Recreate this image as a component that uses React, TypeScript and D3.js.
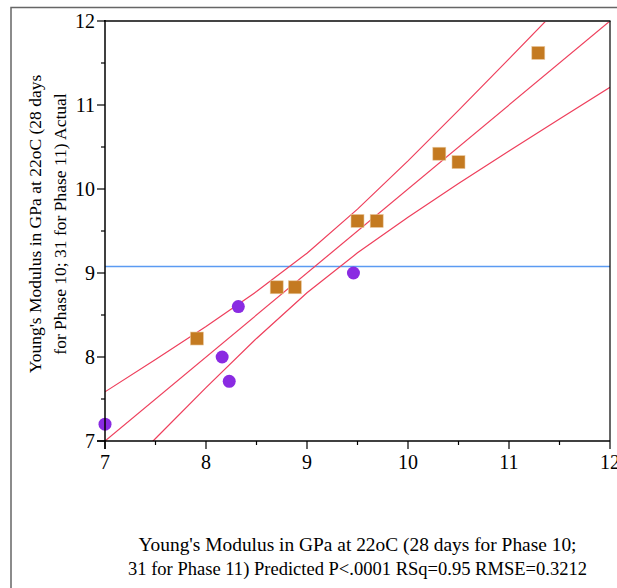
import React from "react";
import * as d3 from "d3";

// Actual by Predicted: Young's modulus (GPa) at 22oC
const phase10Predicted = [7.91, 8.70, 8.88, 9.50, 9.69, 10.31, 10.50, 11.29];
const phase10Actual = [8.22, 8.83, 8.83, 9.62, 9.62, 10.42, 10.32, 11.62];
const phase11Predicted = [7.0, 8.16, 8.23, 8.32, 9.46];
const phase11Actual = [7.2, 8.0, 7.71, 8.6, 9.0];

// Mean of actual values (horizontal reference line)
const meanActual = 9.076;

// Fit line and its confidence curves
const bandX = [7, 7.5, 8, 8.5, 9, 9.5, 10, 10.5, 11, 11.5, 12];
const bandUpper = [7.585, 7.97, 8.364, 8.779, 9.236, 9.76, 10.335, 10.936, 11.549, 12.168, 12.79];
const bandLower = [6.415, 7.03, 7.636, 8.221, 8.764, 9.24, 9.665, 10.064, 10.451, 10.832, 11.21];

const majorTicks = [7, 8, 9, 10, 11, 12];
const minorTicks = [7.5, 8.5, 9.5, 10.5, 11.5];

const xTitle = [
  "Young's Modulus in GPa at 22oC (28 days for Phase 10;",
  "31 for Phase 11) Predicted P<.0001 RSq=0.95 RMSE=0.3212",
];
const xTitleWidths = [438, 459];
const yTitle = [
  "Young's Modulus in GPa at 22oC (28 days",
  "for Phase 10; 31 for Phase 11) Actual",
];

const W = 617;
const H = 588;
const left = 105;
const right = 610;
const top = 21;
const bottom = 441;

const FONT = "'Liberation Serif', 'Times New Roman', serif";
const RED = "#ee3f5c";
const ORANGE = "#c47a21";
const PURPLE = "#8a2be2";

export default function App() {
  const x = d3.scaleLinear().domain([7, 12]).range([left, right]);
  const y = d3.scaleLinear().domain([7, 12]).range([bottom, top]);

  const line = d3
    .line<[number, number]>()
    .x((d) => x(d[0]))
    .y((d) => y(d[1]));

  const upper = line(bandX.map((v, i) => [v, bandUpper[i]] as [number, number]));
  const lower = line(bandX.map((v, i) => [v, bandLower[i]] as [number, number]));
  const fit = line([
    [7, 7],
    [12, 12],
  ]);

  const sq = 13;
  const cx = (left + right) / 2;
  const yTitleCenter = 224;

  return (
    <svg
      width={W}
      height={H}
      style={{ position: "absolute", left: 0, top: 0, background: "#fff" }}
      fontFamily={FONT}
    >
      <defs>
        <clipPath id="plotClip">
          <rect x={left} y={top} width={right - left} height={bottom - top} />
        </clipPath>
      </defs>

      {/* outer frame */}
      <rect x={11} y={7.5} width={W + 20} height={H + 20} fill="none" stroke="#666" strokeWidth={1.5} />

      <g clipPath="url(#plotClip)">
        <line x1={left} x2={right} y1={y(meanActual)} y2={y(meanActual)} stroke="#5b9bf2" strokeWidth={1.5} />
        <path d={upper ?? ""} fill="none" stroke={RED} strokeWidth={1.2} />
        <path d={lower ?? ""} fill="none" stroke={RED} strokeWidth={1.2} />
        <path d={fit ?? ""} fill="none" stroke={RED} strokeWidth={1.2} />
      </g>

      {phase10Predicted.map((v, i) => (
        <rect
          key={"s" + i}
          x={x(v) - sq / 2}
          y={y(phase10Actual[i]) - sq / 2}
          width={sq}
          height={sq}
          fill={ORANGE}
          stroke="#e9c9a0"
          strokeWidth={0.6}
        />
      ))}
      {phase11Predicted.map((v, i) => (
        <circle key={"c" + i} cx={x(v)} cy={y(phase11Actual[i])} r={6.5} fill={PURPLE} />
      ))}

      {/* plot frame */}
      <line x1={left - 1} x2={right + 0.5} y1={top} y2={top} stroke="#444" strokeWidth={2} />
      <line x1={right} x2={right} y1={top} y2={bottom} stroke="#000" strokeWidth={1.2} />
      <line x1={left} x2={left} y1={top - 1} y2={bottom + 8} stroke="#000" strokeWidth={1.5} />
      <line x1={left - 8} x2={right} y1={bottom} y2={bottom} stroke="#000" strokeWidth={1.5} />

      {/* y ticks */}
      {majorTicks.map((t) => (
        <g key={"ym" + t}>
          <line x1={left - 8} x2={left} y1={y(t)} y2={y(t)} stroke="#000" strokeWidth={1.2} />
          <text x={left - 10} y={y(t)} dy="0.34em" textAnchor="end" fontSize={20} fill="#000">
            {t}
          </text>
        </g>
      ))}
      {minorTicks.map((t) => (
        <line key={"yn" + t} x1={left - 4} x2={left} y1={y(t)} y2={y(t)} stroke="#000" strokeWidth={1.2} />
      ))}

      {/* x ticks */}
      {majorTicks.map((t) => (
        <g key={"xm" + t}>
          <line x1={x(t)} x2={x(t)} y1={bottom} y2={bottom + 8} stroke="#000" strokeWidth={1.2} />
          <text x={x(t)} y={469} textAnchor="middle" fontSize={20} fill="#000">
            {t}
          </text>
        </g>
      ))}
      {minorTicks.map((t) => (
        <line key={"xn" + t} x1={x(t)} x2={x(t)} y1={bottom} y2={bottom + 4} stroke="#000" strokeWidth={1.2} />
      ))}

      {/* axis titles */}
      {xTitle.map((s, i) => (
        <text
          key={"xt" + i}
          x={cx}
          y={551 + i * 24}
          textAnchor="middle"
          fontSize={19.3}
          textLength={xTitleWidths[i]}
          lengthAdjust="spacingAndGlyphs"
          fill="#000"
        >
          {s}
        </text>
      ))}
      <g transform={`translate(0, ${yTitleCenter}) rotate(-90)`}>
        {yTitle.map((s, i) => (
          <text key={"yt" + i} x={0} y={41 + i * 25} textAnchor="middle" fontSize={17.5} fill="#000">
            {s}
          </text>
        ))}
      </g>
    </svg>
  );
}
